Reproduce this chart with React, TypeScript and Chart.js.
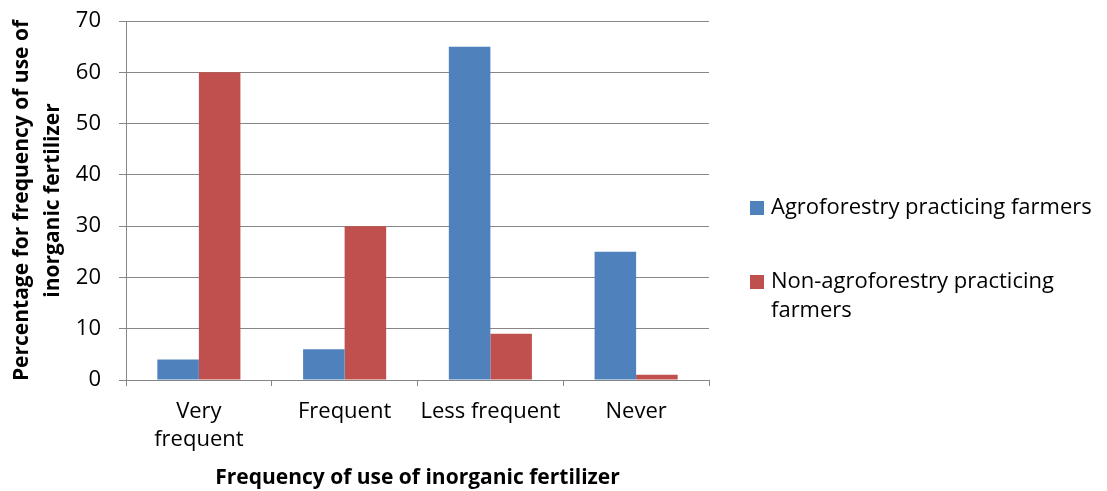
import React, { useEffect, useRef } from "react";
import { Chart, registerables } from "chart.js";

Chart.register(...registerables);

const categories: (string | string[])[] = [["Very", "frequent"], "Frequent", "Less frequent", "Never"];
const agroforestry = [4, 6, 65, 25];
const nonAgroforestry = [60, 30, 9, 1];
const seriesNames = ["Agroforestry practicing farmers", ["Non-agroforestry practicing", "farmers"]];
const yTitle = ["Percentage for frequency of use of", "inorganic fertilizer"];
const xTitle = "Frequency of use of inorganic fertilizer";

const FONT = "'Open Sans', sans-serif";
const BLUE = "#4F81BD";
const RED = "#C0504D";
const GRID = "#868686";

const legendPlugin = {
  id: "sideLegend",
  afterDraw(chart: any) {
    const ctx = chart.ctx as CanvasRenderingContext2D;
    const colors = [BLUE, RED];
    const ys = [208, 282];
    ctx.save();
    ctx.font = `22px ${FONT}`;
    ctx.textBaseline = "middle";
    ctx.fillStyle = "#000";
    seriesNames.forEach((name, i) => {
      ctx.fillStyle = colors[i];
      ctx.fillRect(750, ys[i] - 7, 14, 14);
      ctx.fillStyle = "#000";
      const lines = Array.isArray(name) ? name : [name];
      lines.forEach((ln, j) => ctx.fillText(ln, 771, ys[i] + j * 29));
    });
    ctx.restore();
  },
};

export default function App() {
  const ref = useRef<HTMLCanvasElement>(null);
  useEffect(() => {
    if (!ref.current) return;
    const chart = new Chart(ref.current, {
      type: "bar",
      data: {
        labels: categories,
        datasets: [
          { label: "Agroforestry practicing farmers", data: agroforestry, backgroundColor: BLUE },
          { label: "Non-agroforestry practicing farmers", data: nonAgroforestry, backgroundColor: RED },
        ],
      },
      options: {
        animation: false,
        responsive: false,
        maintainAspectRatio: false,
        layout: { padding: { top: 21, right: 398, left: 0, bottom: 0 } },
        plugins: { legend: { display: false }, tooltip: { enabled: false } },
        datasets: { bar: { categoryPercentage: 0.57, barPercentage: 1 } } as any,
        scales: {
          x: {
            grid: { display: true, drawOnChartArea: false, drawTicks: true, tickLength: 6, color: GRID, offset: true },
            border: { display: true, color: GRID, width: 1 },
            ticks: { font: { family: FONT, size: 22, lineHeight: 1.3 }, color: "#000", padding: 11, maxRotation: 0, autoSkip: false },
            title: { display: true, text: xTitle, font: { family: FONT, size: 21, weight: "bold" }, color: "#000", padding: { top: 6, bottom: 0 } },
            afterFit: (s: any) => { s.height = 111; s.paddingLeft = 0; s.paddingRight = 0; },
          },
          y: {
            min: 0,
            max: 70,
            ticks: { stepSize: 10, font: { family: FONT, size: 22 }, color: "#000", padding: 18 },
            grid: { color: GRID, tickLength: 7, drawTicks: true },
            border: { display: true, color: GRID, width: 1 },
            title: { display: true, text: yTitle, font: { family: FONT, size: 21, weight: "bold", lineHeight: 1.45 }, color: "#000", padding: { top: 7, bottom: 0 } },
            afterFit: (s: any) => { s.width = 126; s.paddingTop = 0; s.paddingBottom = 0; },
          },
        },
      },
      plugins: [legendPlugin],
    });
    return () => chart.destroy();
  }, []);
  return (
    <div style={{ position: "fixed", left: 0, top: 0, width: 1107, height: 491, background: "#fff" }}>
      <canvas ref={ref} width={1107} height={491} style={{ width: 1107, height: 491 }} />
    </div>
  );
}
